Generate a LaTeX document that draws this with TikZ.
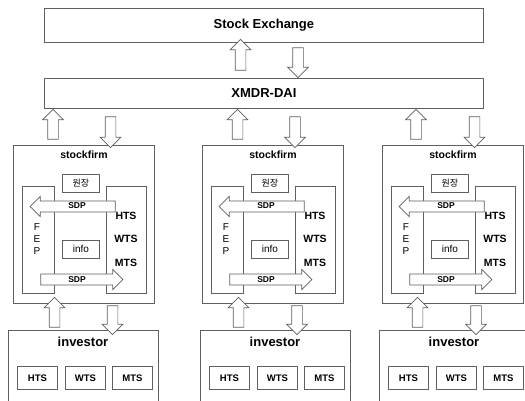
\documentclass[tikz,border=0pt]{standalone}
\usepackage{fontspec}
\setmainfont{Liberation Sans}
\newfontfamily\krfont{Noto Sans CJK KR}
\usetikzlibrary{shapes.arrows}
\definecolor{linegray}{RGB}{95,95,95}

\tikzset{
  box/.style = {draw=linegray, line width=0.8pt, inner sep=0pt, anchor=north west},
  big/.style = {font=\fontsize{13}{15}\selectfont\bfseries},
  mid/.style = {font=\fontsize{10.5}{12}\selectfont\bfseries},
  small/.style = {font=\fontsize{9.5}{11}\selectfont\bfseries},
  blk/.style = {single arrow, draw=linegray, line width=0.7pt, fill=white,
    inner xsep=0pt, inner ysep=5pt, single arrow head extend=5pt},
  sdp/.style = {blk, inner ysep=5.2pt, single arrow head extend=4.5pt}
}

\begin{document}
\begin{tikzpicture}[x=1pt, y=-1pt]
\useasboundingbox (0,0) rectangle (525,400);
\clip (0,0) rectangle (525,400);

\node[box, minimum width=439pt, minimum height=34pt] (se) at (44,8) {};
\node[big] (set) at (se.center) {Stock Exchange};
\node[box, minimum width=439pt, minimum height=30pt] (xmdr) at (44,78) {};
\node[big] (xmdrt) at (xmdr.center) {XMDR-DAI};

\node[blk, rotate=90, minimum height=31pt] (up0) at (240.5,57.5) {};
\node[blk, rotate=-90, minimum height=30pt] (dn0) at (298,60) {};

\foreach \i/\L/\I/\ua/\da/\ub/\db in {1/13/8/53/110.5/54.5/112.5,
                                      2/202/200/237.5/295/238.5/297,
                                      3/382/379/416/474.5/417.5/476}
{
  % stockfirm
  \node[box, minimum width=141pt, minimum height=158pt] (sf\i) at (\L,145) {};
  \node[mid] (sft\i) at (\L+71,155) {stockfirm};
  \node[box, minimum width=37pt, minimum height=18pt] (wj\i) at (\L+49,174) {};
  \node[font=\krfont\fontsize{9}{10}\selectfont] (wjt\i) at (wj\i.center) {원장};
  \node[box, minimum width=32pt, minimum height=107pt] (fep\i) at (\L+9,186) {};
  \node[font=\fontsize{10}{11.7}\selectfont, align=center] (fept\i) at (\L+24,239) {F\\E\\P};
  \node[box, minimum width=40pt, minimum height=107pt] (cl\i) at (\L+93,186) {};
  \node[mid] (hts\i) at (\L+113,216) {HTS};
  \node[mid] (wts\i) at (\L+113,239) {WTS};
  \node[mid] (mts\i) at (\L+113,263) {MTS};
  \node[box, minimum width=37pt, minimum height=18pt] (info\i) at (\L+49,240) {};
  \node[font=\fontsize{10}{12}\selectfont] (infot\i) at (info\i.center) {info};
  \node[sdp, shape border rotate=180, minimum height=85pt] (sdpa\i) at (\L+62.5,206.5) {};
  \node[font=\fontsize{8.5}{10}\selectfont\bfseries] at (\L+64,206) {SDP};
  \node[sdp, minimum height=82pt] (sdpb\i) at (\L+66,279.5) {};
  \node[font=\fontsize{8.5}{10}\selectfont\bfseries] at (\L+64,279.5) {SDP};

  % investor
  \node[box, minimum width=150pt, minimum height=100pt] (inv\i) at (\I,330) {};
  \node[big] (invt\i) at (\I+75,342) {investor};
  \node[box, minimum width=40pt, minimum height=23pt] (ih\i) at (\I+9,366) {};
  \node[small] at (ih\i.center) {HTS};
  \node[box, minimum width=40pt, minimum height=23pt] (iw\i) at (\I+57,366) {};
  \node[small] at (iw\i.center) {WTS};
  \node[box, minimum width=40pt, minimum height=23pt] (im\i) at (\I+104,366) {};
  \node[small] at (im\i.center) {MTS};

  % arrows
  \node[blk, rotate=90, minimum height=30pt] (upa\i) at (\ua,127) {};
  \node[blk, rotate=-90, minimum height=31pt] (dna\i) at (\da,129.5) {};
  \node[blk, rotate=90, minimum height=30pt] (upb\i) at (\ub,315) {};
  \node[blk, rotate=-90, minimum height=29pt] (dnb\i) at (\db,317.5) {};
}
\end{tikzpicture}
\end{document}
